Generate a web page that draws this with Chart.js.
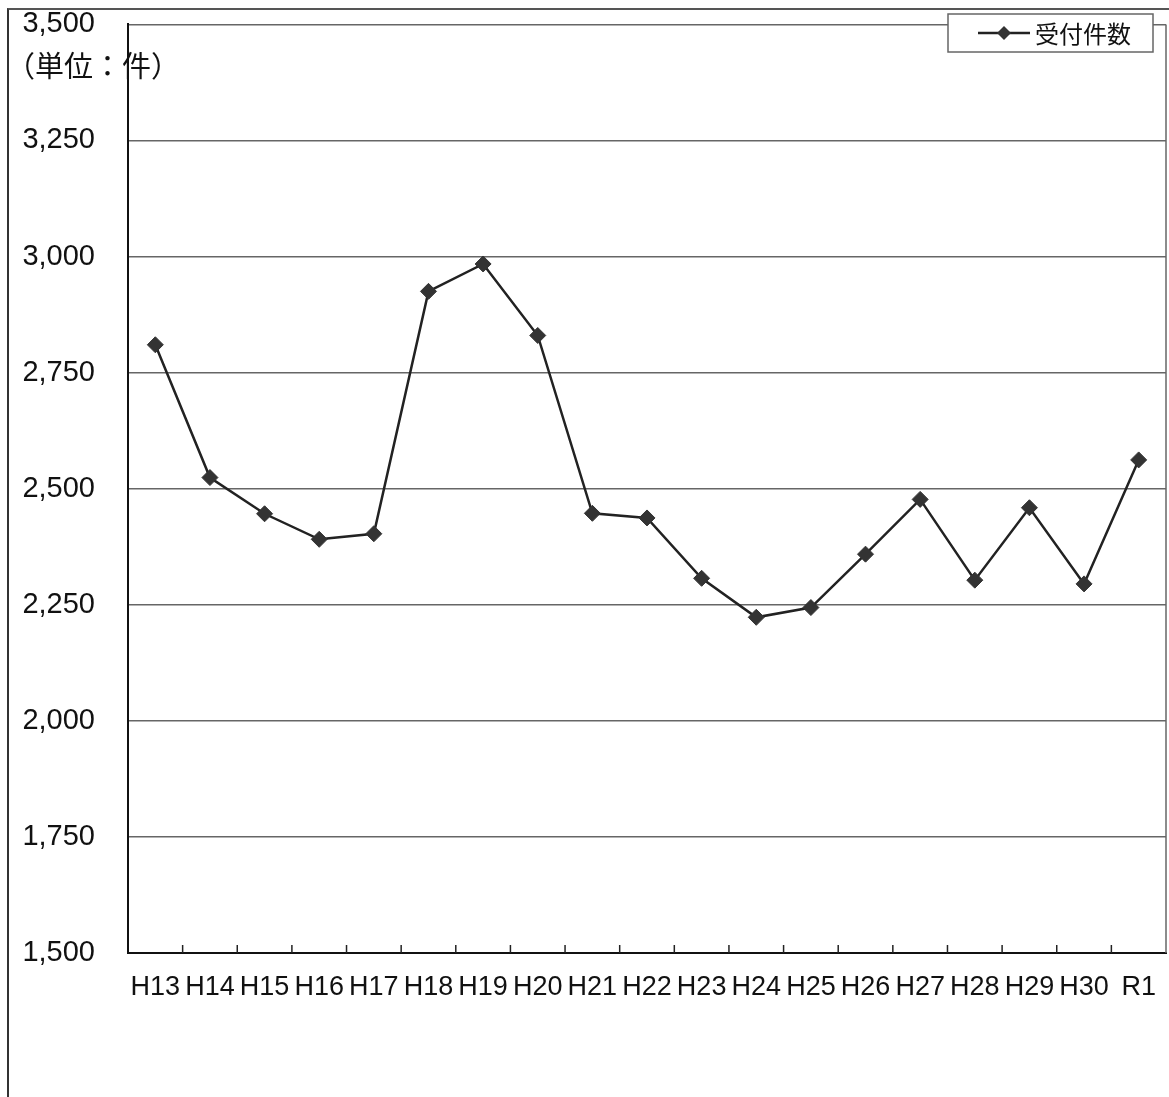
<!DOCTYPE html>
<html>
<head>
<meta charset="utf-8">
<script src="https://cdn.jsdelivr.net/npm/chart.js@4.4.1/dist/chart.umd.min.js"></script>
<style>
  body { margin: 0; background: #fff; }
  #wrap { position: relative; width: 1169px; height: 1097px; overflow: hidden; }
  #frame { position: absolute; left: 7px; top: 8px; width: 1300px; height: 1300px;
           border-left: 2px solid #333; border-top: 2px solid #555; }
  canvas { position: absolute; left: 0; top: -26px; }
</style>
</head>
<body>
<div id="wrap">
  <div id="frame"></div>
  <canvas id="chart-01" width="1175" height="1123"></canvas>
</div>
<script>
// ==================data=================
const years = ["H13", "H14", "H15", "H16", "H17", "H18", "H19", "H20", "H21", "H22",
  "H23", "H24", "H25", "H26", "H27", "H28", "H29", "H30", "R1"];
const counts = [2810, 2524, 2446, 2391, 2403, 2925, 2984, 2830, 2447, 2437,
  2307, 2223, 2244, 2359, 2477, 2303, 2459, 2295, 2562];
const seriesName = "受付件数";
const unitLabel = "（単位：件）";
const yMin = 1500, yMax = 3500, yStep = 250;

const tickFont = { family: "'Liberation Sans', Arial, sans-serif", size: 29 };
const xFont = { family: "'Liberation Sans', Arial, sans-serif", size: 27 };
const cjkFont = "'Noto Sans CJK JP', sans-serif";
const shiftY = 26; // canvas sits 26px above the page top

// small tick marks between categories, inside the plot, plus right border, legend, unit label
const extras = {
  id: "extras",
  afterDraw(chart) {
    const ctx = chart.ctx;
    const a = chart.chartArea;
    const xs = chart.scales.x;
    ctx.save();
    // right border
    ctx.strokeStyle = "#666";
    ctx.lineWidth = 1.5;
    ctx.beginPath();
    ctx.moveTo(a.right, a.top);
    ctx.lineTo(a.right, a.bottom);
    ctx.stroke();
    // category ticks
    ctx.strokeStyle = "#222";
    ctx.lineWidth = 1.5;
    for (let i = 1; i < years.length; i++) {
      const x = (xs.getPixelForValue(i - 1) + xs.getPixelForValue(i)) / 2;
      ctx.beginPath();
      ctx.moveTo(x, a.bottom);
      ctx.lineTo(x, a.bottom - 8);
      ctx.stroke();
    }
    // legend
    const ds = chart.data.datasets[0];
    const bx = 948, by = 14 + shiftY, bw = 205, bh = 38;
    ctx.fillStyle = "#fff";
    ctx.fillRect(bx, by, bw, bh);
    ctx.strokeStyle = "#666";
    ctx.lineWidth = 1.5;
    ctx.strokeRect(bx, by, bw, bh);
    const ly = by + bh / 2;
    ctx.strokeStyle = ds.borderColor;
    ctx.lineWidth = 2.5;
    ctx.beginPath();
    ctx.moveTo(978, ly);
    ctx.lineTo(1030, ly);
    ctx.stroke();
    ctx.fillStyle = ds.pointBackgroundColor;
    ctx.beginPath();
    ctx.moveTo(1004, ly - 7); ctx.lineTo(1011, ly); ctx.lineTo(1004, ly + 7); ctx.lineTo(997, ly);
    ctx.closePath();
    ctx.fill();
    ctx.fillStyle = "#111";
    ctx.font = "24px " + cjkFont;
    ctx.textBaseline = "middle";
    ctx.textAlign = "left";
    ctx.fillText(ds.label, 1035, ly + 1);
    // unit label
    ctx.font = "29px " + cjkFont;
    ctx.fillText(unitLabel, 6, 66 + shiftY);
    ctx.restore();
  }
};

const ctx01 = document.getElementById("chart-01").getContext("2d");
new Chart(ctx01, {
  type: "line",
  data: {
    labels: years,
    datasets: [
      {
        label: seriesName,
        data: counts,
        borderColor: "#222",
        borderWidth: 2.5,
        pointStyle: "rectRot",
        pointRadius: 8,
        pointBackgroundColor: "#333",
        pointBorderColor: "#333",
        pointBorderWidth: 1,
        tension: 0,
        fill: false,
      },
    ],
  },
  options: {
    responsive: false,
    animation: false,
    devicePixelRatio: 1,
    layout: { padding: { top: 0, right: 0, left: 0, bottom: 0 } },
    plugins: { legend: { display: false }, tooltip: { enabled: false } },
    scales: {
      x: {
        offset: true,
        grid: { display: false, drawTicks: false },
        border: { display: true, color: "#111", width: 2 },
        ticks: { color: "#111", font: xFont, padding: 18, autoSkip: false, maxRotation: 0 },
        afterFit: (s) => { s.height = 1097 - 953; },
      },
      y: {
        min: yMin,
        max: yMax,
        grid: { color: "#666", lineWidth: 1.5, drawTicks: false },
        border: { display: true, color: "#111", width: 2 },
        ticks: {
          stepSize: yStep,
          color: "#111",
          font: tickFont,
          padding: 33,
          callback: (v) => v.toLocaleString("en-US"),
        },
        afterFit: (s) => { s.width = 128; },
      },
    },
  },
  plugins: [extras],
});
</script>
</body>
</html>
